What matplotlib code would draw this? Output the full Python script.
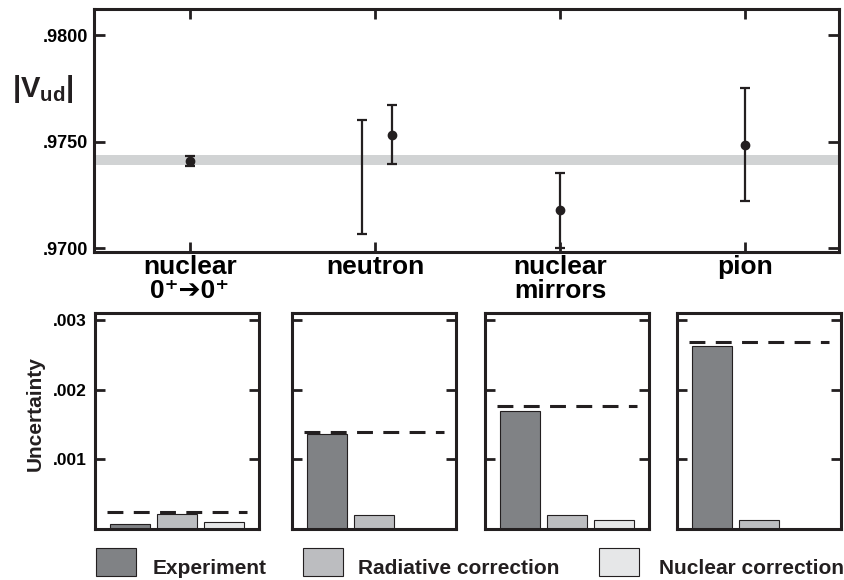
import matplotlib
matplotlib.use('Agg')
import matplotlib.pyplot as plt
from matplotlib.patches import Rectangle
import numpy as np

plt.rcParams['font.family'] = ['Liberation Sans', 'DejaVu Sans']
plt.rcParams['font.weight'] = 'bold'
plt.rcParams['mathtext.fontset'] = 'custom'
plt.rcParams['mathtext.rm'] = 'Liberation Sans'
plt.rcParams['mathtext.bf'] = 'Liberation Sans:bold'

# top panel: |Vud| from each method
categories = ['nuclear\n0\u207a\u27940\u207a', 'neutron', 'nuclear\nmirrors', 'pion']
vud_x = [1, 2.09, 3, 4]
vud_val = [0.97410, 0.97533, 0.97178, 0.97486]
vud_err = [0.00024, 0.00138, 0.00176, 0.00264]
# second neutron range, shown without a central point
neutron_alt_x = 1.93
neutron_alt_val = 0.97334
neutron_alt_err = 0.00268
band = (0.97389, 0.97436)

# bottom panels: uncertainty budget
experiment = [0.000067, 0.00137, 0.00170, 0.00262]
radiative = [0.000214, 0.00020, 0.00020, 0.000133]
nuclear = [0.000096, None, 0.000124, None]
total = [0.000243, 0.00139, 0.00177, 0.00268]

col_exp = '#808285'
col_rad = '#bcbdc0'
col_nuc = '#e6e7e8'
ink = '#231f20'

W, H = 845, 580
fig = plt.figure(figsize=(W / 100, H / 100), dpi=100)

def box(l, t, r, b):
    return [l / W, 1 - b / H, (r - l) / W, (b - t) / H]

def frame(ax):
    for s in ax.spines.values():
        s.set_linewidth(2.2)
        s.set_color(ink)

ax = fig.add_axes(box(94, 9, 839, 252))
frame(ax)
ax.axhspan(band[0], band[1], color='#d1d3d4', lw=0, zorder=0)
ax.errorbar(vud_x, vud_val, yerr=vud_err, fmt='o', color=ink, ms=6,
            elinewidth=1.6, capsize=3.5, capthick=1.6, zorder=3)
ax.errorbar([neutron_alt_x], [neutron_alt_val], yerr=[neutron_alt_err], fmt='none',
            ecolor=ink, elinewidth=1.6, capsize=3.5, capthick=1.6, zorder=3)
ax.set_xlim(0.481, 4.508)
ax.set_ylim(0.96983, 0.98122)
ax.set_yticks([0.9700, 0.9750, 0.9800])
ax.set_yticklabels(['.9700', '.9750', '.9800'])
ax.set_xticks([1, 2, 3, 4])
ax.set_xticklabels(categories)
ax.tick_params(axis='y', direction='in', left=True, right=True, length=8, width=2,
               labelsize=13, pad=4, color=ink)
ax.tick_params(axis='x', direction='in', top=True, bottom=True, length=7, width=2,
               labelsize=19, pad=2, color=ink)
for lab in ax.get_xticklabels():
    lab.set_linespacing(1.0)
    lab.set_fontweight('bold')
for lab in ax.get_yticklabels():
    lab.set_fontweight('bold')

fig.text(43 / W, 1 - 89 / H, r'$|\mathbf{V}_{\mathbf{ud}}|$', fontsize=21,
         ha='center', va='center', color=ink)

lefts = [95, 292, 485, 677]
pos = np.arange(3)
for i, l in enumerate(lefts):
    bx = fig.add_axes(box(l, 313, l + 164, 529))
    frame(bx)
    vals = [experiment[i], radiative[i], nuclear[i]]
    cols = [col_exp, col_rad, col_nuc]
    for p, v, c in zip(pos, vals, cols):
        if v is not None:
            bx.bar(p, v, width=0.85, color=c, edgecolor=ink, linewidth=0.8, zorder=2)
    bx.hlines(total[i], -0.5, 2.48, colors=ink, linewidth=2.2,
              linestyles=(0, (5.2, 3.4)), zorder=3)
    bx.set_xlim(-0.745, 2.745)
    bx.set_ylim(0, 0.0031)
    bx.set_xticks([])
    bx.set_yticks([0.001, 0.002, 0.003])
    bx.tick_params(axis='y', direction='in', left=True, right=True, length=7.5,
                   width=2, labelsize=12.5, pad=6, color=ink)
    if i == 0:
        bx.set_yticklabels(['.001', '.002', '.003'])
        for lab in bx.get_yticklabels():
            lab.set_fontweight('bold')
    else:
        bx.set_yticklabels([])

fig.text(35 / W, 1 - 414 / H, 'Uncertainty', rotation=90, fontsize=15,
         ha='center', va='center', color=ink)

# legend drawn in figure pixels
leg_names = ['Experiment', 'Radiative correction', 'Nuclear correction']
leg_cols = [col_exp, col_rad, col_nuc]
leg_box_x = [96, 303, 599]
leg_text_x = [153, 358, 659]
for name, c, bxp, tx in zip(leg_names, leg_cols, leg_box_x, leg_text_x):
    fig.patches.append(Rectangle((bxp / W, 1 - 576 / H), 40 / W, 28 / H,
                                 transform=fig.transFigure, facecolor=c,
                                 edgecolor=ink, linewidth=0.8))
    fig.text(tx / W, 1 - 568 / H, name, fontsize=15, ha='left', va='center', color=ink)

fig.savefig('out.png', dpi=100)
